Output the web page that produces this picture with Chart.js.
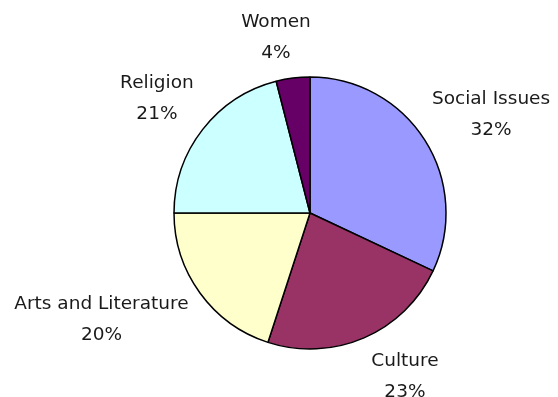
<!DOCTYPE html>
<html>
<head>
<meta charset="utf-8">
<script src="https://cdn.jsdelivr.net/npm/chart.js@4/dist/chart.umd.min.js"></script>
<style>
    html, body { margin: 0; padding: 0; background: #fff; }
    #wrap { width: 558px; height: 397px; position: relative; }
</style>
</head>
<body>
<div id="wrap"><canvas id="chart-topics"></canvas></div>
<script>
// Data
const categories = ["Social Issues", "Culture", "Arts and Literature", "Religion", "Women"];
const shares     = [32, 23, 20, 21, 4];
const colours    = ["#9999ff", "#993366", "#ffffcc", "#ccffff", "#660066"];

// Outside labels: name on one line, percentage under it
const outsideLabels = {
    id: "outsideLabels",
    afterDraw(chart, args, opts) {
        const ctx = chart.ctx;
        const meta = chart.getDatasetMeta(0);
        const total = shares.reduce((a, b) => a + b, 0);
        ctx.save();
        ctx.font = opts.font;
        ctx.fillStyle = opts.color;
        ctx.textAlign = "center";
        ctx.textBaseline = "middle";
        meta.data.forEach((arc, i) => {
            const p = arc.getProps(["x", "y", "startAngle", "endAngle", "outerRadius"], true);
            const mid = (p.startAngle + p.endAngle) / 2;
            const r = p.outerRadius * opts.distance;
            const off = opts.offsets[i] || [0, 0];
            const x = p.x + Math.cos(mid) * r + off[0];
            const y = p.y + Math.sin(mid) * r + off[1];
            ctx.fillText(categories[i], x, y - opts.lineGap / 2);
            ctx.fillText(Math.round(shares[i] / total * 100) + "%", x, y + opts.lineGap / 2);
        });
        ctx.restore();
    }
};

new Chart(document.getElementById("chart-topics"), {
    type: "pie",
    data: {
        labels: categories,
        datasets: [{
            data: shares,
            backgroundColor: colours,
            borderColor: "#000",
            borderWidth: 1.5,
            hoverOffset: 0,
        }]
    },
    options: {
        responsive: true, maintainAspectRatio: false,
        animation: false,
        radius: 136,
        layout: { padding: { left: 62, right: 0, top: 29, bottom: 0 } },
        plugins: {
            legend: { display: false },
            tooltip: { enabled: false },
            outsideLabels: {
                font: "18.5px 'DejaVu Sans'",
                color: "#1a1a1a",
                distance: 1.35,
                lineGap: 31,
                offsets: [[26, 0], [22, -5], [-60, -1], [-8, -2], [-11, 7]],
            }
        }
    },
    plugins: [outsideLabels]
});
</script>
</body>
</html>
